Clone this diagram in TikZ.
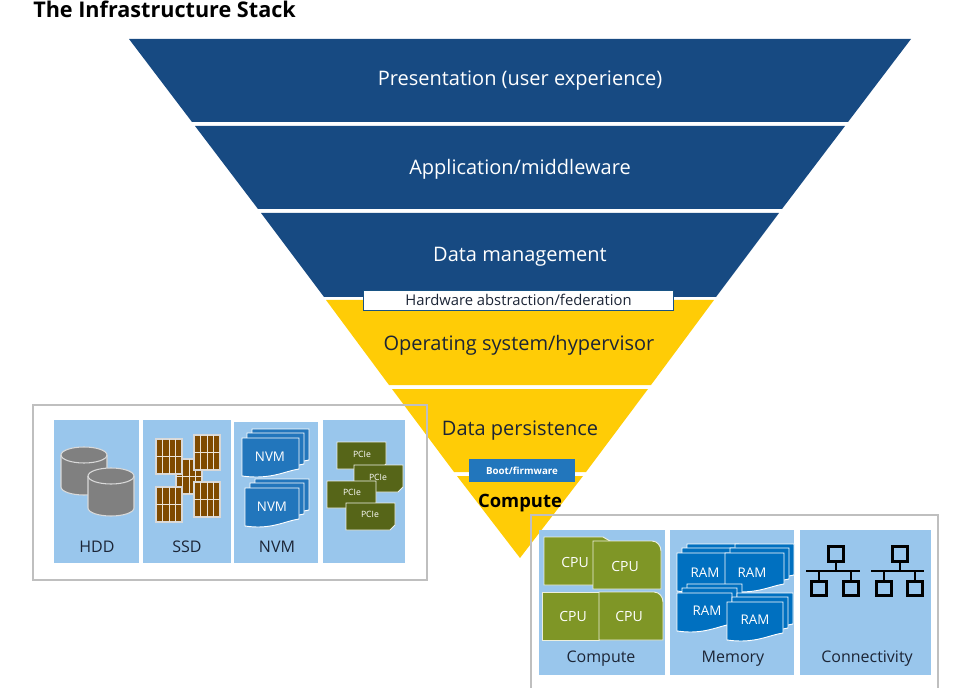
\documentclass[tikz,border=0pt]{standalone}
\usepackage{fontspec}
\setmainfont{Open Sans}
\usepackage{xcolor}
\usepackage{tikz}

\definecolor{bandblue}{HTML}{174A82}
\definecolor{bandyellow}{HTML}{FFCC06}
\definecolor{panelblue}{HTML}{99C6EC}
\definecolor{nvmblue}{HTML}{2276BC}
\definecolor{ramblue}{HTML}{0070C0}
\definecolor{cpugreen}{HTML}{7F9626}
\definecolor{pciegreen}{HTML}{566518}
\definecolor{chipbrown}{HTML}{7F4A00}
\definecolor{inktext}{HTML}{1C2536}

\tikzset{
  bandlabel/.style={font=\fontsize{15}{17}\selectfont, inner sep=0pt},
  panellabel/.style={font=\fontsize{12}{14}\selectfont, text=inktext, inner sep=0pt},
  iconlabel/.style={font=\fontsize{10}{12}\selectfont, text=white, inner sep=0pt},
  panel/.style={fill=panelblue, draw=none},
  framebox/.style={draw=black!25, line width=0.8pt},
  sheetshape/.style={draw=white, line width=0.7pt},
  netline/.style={draw=black, line width=2.2pt},
}

% sheet stack: left, top, width, height, fill
\newcommand{\sheetstack}[5]{
  \foreach \off/\up in {10/9, 5/5, 0/0}
    \draw[sheetshape, fill=#5, shift={(#1+\off,#2-\up)}]
      (0,0) -- (#3,0) -- (#3,#4-8)
      .. controls (#3-14,#4-6) and (#3-28,#4+3) .. (0,#4-1) -- cycle;
}
% ssd chip: left, top
\newcommand{\ssdchip}[2]{
  \begin{scope}[shift={(#1,#2)}]
    \fill[chipbrown, draw=white!85!black, line width=0.8pt] (0,0) rectangle (26,35);
    \foreach \xx in {6.5, 13, 19.5}
      \draw[white!85!chipbrown, line width=0.7pt] (\xx,0) -- (\xx,35);
    \draw[white!85!chipbrown, line width=0.7pt] (0,17) -- (26,17);
  \end{scope}
}
% cylinder: left, top
\newcommand{\diskdrum}[2]{
  \begin{scope}[shift={(#1,#2)}]
    \draw[fill=black!50, draw=white!85!black, line width=0.8pt]
      (0,8) -- (0,40) arc[start angle=180, end angle=0, x radius=23, y radius=8]
      -- (46,8) arc[start angle=0, end angle=-180, x radius=23, y radius=8] -- cycle;
    \draw[draw=white!85!black, line width=0.8pt]
      (0,8) arc[start angle=180, end angle=0, x radius=23, y radius=8];
  \end{scope}
}
% network icon: top box left, bus left, bus right, first and second lower box left
\newcommand{\netgroup}[5]{
  \draw[netline] (#1+1.5,546.5) rectangle (#1+16.5,561.5);
  \draw[netline] (#1+9,561) -- (#1+9,571);
  \draw[netline] (#2,571) -- (#3,571);
  \draw[netline] (#4+1.5,581.5) rectangle (#4+16.5,595.5);
  \draw[netline] (#5+1.5,581.5) rectangle (#5+16.5,595.5);
  \draw[netline] (#4+9,571) -- (#4+9,582);
  \draw[netline] (#5+9,571) -- (#5+9,582);
}

\begin{document}
\begin{tikzpicture}[x=0.75pt, y=-0.75pt]
  \useasboundingbox (0,0) rectangle (979,688);

  % Title
  \node[anchor=west, inner sep=0pt, font=\fontsize{16.2}{18}\selectfont\bfseries] (title) at (33,9) {The Infrastructure Stack};

  % Blue bands
  \fill[bandblue] (129,39) -- (911,39) -- (848,122) -- (192,122) -- cycle;
  \fill[bandblue] (195,126) -- (845,126) -- (782,209) -- (258,209) -- cycle;
  \fill[bandblue] (261,213) -- (779,213) -- (716,297) -- (324,297) -- cycle;

  % Yellow bands
  \fill[bandyellow] (326,300) -- (714,300) -- (651,385) -- (389,385) -- cycle;
  \fill[bandyellow] (392,389) -- (648,389) -- (586,472) -- (454,472) -- cycle;
  \fill[bandyellow] (457,476) -- (583,476) -- (520,558) -- cycle;

  % Band labels
  \node[bandlabel, text=white] (presentation) at (520,81) {Presentation (user experience)};
  \node[bandlabel, text=white] (application) at (520,169) {Application/middleware};
  \node[bandlabel, text=white] (datamgmt) at (520,257) {Data management};
  \node[bandlabel, text=inktext] (opsystem) at (519,345) {Operating system/hypervisor};
  \node[bandlabel, text=inktext] (datapersist) at (520,431) {Data persistence};
  \node[bandlabel, text=black, font=\fontsize{13.8}{16}\selectfont\bfseries] (computelabel) at (520,503) {Compute};

  % Thin layers
  \node[draw=nvmblue!70!black, fill=white, line width=0.6pt, minimum width=232.5pt, minimum height=15.5pt, inner sep=0pt,
    text=inktext, font=\fontsize{11.1}{13}\selectfont] (hwlayer) at (518.5,300.5) {\raisebox{0.7pt}{Hardware abstraction/federation}};
  \node[fill=nvmblue, minimum width=79.5pt, minimum height=17pt, inner sep=0pt,
    text=white, font=\fontsize{7.3}{9}\selectfont\bfseries] (bootlayer) at (522,470.5) {Boot/firmware};

  % Storage frame
  \draw[framebox] (33,405) rectangle (427,580);
  \fill[panel] (54,420) rectangle (139,563);
  \fill[panel] (143,420) rectangle (231,563);
  \fill[panel] (234,422) rectangle (318,563);
  \fill[panel] (323,420) rectangle (405,563);

  \diskdrum{61}{447}
  \diskdrum{88}{468}
  \node[panellabel] (hdd) at (97,547) {HDD};

  \ssdchip{176}{459}
  \ssdchip{156}{439}
  \ssdchip{194}{435}
  \ssdchip{156}{487}
  \ssdchip{194}{482}
  \node[panellabel] (ssd) at (187,547) {SSD};

  \sheetstack{242}{438}{57}{39}{nvmblue}
  \node[iconlabel] (nvmone) at (270,457) {NVM};
  \sheetstack{245}{488}{54}{39}{nvmblue}
  \node[iconlabel] (nvmtwo) at (272,507) {NVM};
  \node[panellabel] (nvm) at (277,547) {NVM};

  % PCIe cards
  \foreach \xx/\yy/\lab in {337/442/pcieone, 354/465/pcietwo, 327/481/pciethree, 346/503/pciefour}
    \draw[fill=pciegreen, draw=white!90!pciegreen, line width=0.7pt]
      (\xx,\yy) -- (\xx+49,\yy) -- (\xx+49,\yy+22) -- (\xx+44,\yy+27) -- (\xx,\yy+27) -- cycle;
  \node[iconlabel, font=\fontsize{6.5}{8}\selectfont] (pcieone) at (362,454) {PCIe};
  \node[iconlabel, font=\fontsize{6.5}{8}\selectfont] (pcietwo) at (378,477) {PCIe};
  \node[iconlabel, font=\fontsize{6.5}{8}\selectfont] (pciethree) at (352,492) {PCIe};
  \node[iconlabel, font=\fontsize{6.5}{8}\selectfont] (pciefour) at (370,514) {PCIe};

  % Compute frame, open at the bottom edge
  \draw[framebox] (531,688) -- (531,515) -- (938,515) -- (938,688);
  \fill[panel] (539,530) rectangle (665,675);
  \fill[panel] (670,530) rectangle (794,675);
  \fill[panel] (800,530) rectangle (931,675);

  % CPU blocks
  \draw[fill=cpugreen, draw=white!85!cpugreen, line width=0.7pt] (544,537) -- (603,537) -- (610,541) -- (610,585) -- (544,585) -- cycle;
  \draw[fill=cpugreen, draw=white!85!cpugreen, line width=0.7pt] (593,541) -- (652,541) to[out=0, in=90] (661,551) -- (661,589) -- (593,589) -- cycle;
  \draw[fill=cpugreen, draw=white!85!cpugreen, line width=0.7pt] (542,592) rectangle (599,640);
  \draw[fill=cpugreen, draw=white!85!cpugreen, line width=0.7pt] (599,592) -- (654,592) to[out=0, in=90] (663,602) -- (663,640) -- (599,640) -- cycle;
  \node[iconlabel, font=\fontsize{10.5}{12}\selectfont] (cpuone) at (575,562) {CPU};
  \node[iconlabel, font=\fontsize{10.5}{12}\selectfont] (cputwo) at (625,566) {CPU};
  \node[iconlabel, font=\fontsize{10.5}{12}\selectfont] (cputhree) at (573,616) {CPU};
  \node[iconlabel, font=\fontsize{10.5}{12}\selectfont] (cpufour) at (629,616) {CPU};
  \node[panellabel] (compute) at (601,659) {Compute};

  % RAM stacks
  \sheetstack{677}{553}{52}{39}{ramblue}
  \sheetstack{725}{553}{59}{39}{ramblue}
  \sheetstack{677}{593}{55}{39}{ramblue}
  \sheetstack{727}{602}{56}{39}{ramblue}
  \node[iconlabel] (ramone) at (705,573) {RAM};
  \node[iconlabel] (ramtwo) at (752,573) {RAM};
  \node[iconlabel] (ramthree) at (707,611) {RAM};
  \node[iconlabel] (ramfour) at (755,620) {RAM};
  \node[panellabel] (memory) at (733,659) {Memory};

  % Network icons
  \netgroup{827}{806}{860}{810}{842}
  \netgroup{891}{871}{924}{875}{906}
  \node[panellabel] (connectivity) at (867,659) {Connectivity};
\end{tikzpicture}
\end{document}
